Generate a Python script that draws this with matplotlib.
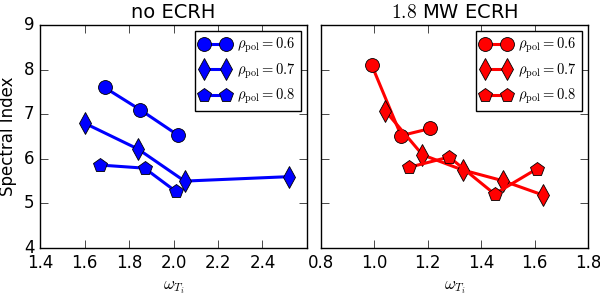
import matplotlib
matplotlib.use("Agg")
import matplotlib.pyplot as plt

plt.style.use("classic")
plt.rcParams["mathtext.fontset"] = "cm"
plt.rcParams["font.family"] = ["DejaVu Sans"]

labels = [r"$\rho_{\rm pol}=0.6$", r"$\rho_{\rm pol}=0.7$", r"$\rho_{\rm pol}=0.8$"]
markers = ["o", "d", "p"]

# no ECRH
noecrh_x06 = [1.69, 1.85, 2.02]
noecrh_y06 = [7.60, 7.10, 6.53]
noecrh_x07 = [1.60, 1.84, 2.05, 2.52]
noecrh_y07 = [6.80, 6.22, 5.50, 5.60]
noecrh_x08 = [1.67, 1.87, 2.01]
noecrh_y08 = [5.86, 5.79, 5.27]

# 1.8 MW ECRH
ecrh_x06 = [0.99, 1.10, 1.21]
ecrh_y06 = [8.10, 6.52, 6.68]
ecrh_x07 = [1.04, 1.18, 1.33, 1.48, 1.63]
ecrh_y07 = [7.08, 6.09, 5.75, 5.51, 5.19]
ecrh_x08 = [1.13, 1.28, 1.45, 1.61]
ecrh_y08 = [5.81, 6.04, 5.21, 5.78]

fig = plt.figure(figsize=(6, 3), dpi=100, facecolor="white")
ax1 = fig.add_axes([40/600, 52/300, 267/600, 223/300])
ax2 = fig.add_axes([321/600, 52/300, 267/600, 223/300])

def draw(ax, xs, ys, color):
    for x, y, m, lab in zip(xs, ys, markers, labels):
        ms = 10 if m == "o" else (11 if m == "d" else 10)
        ax.plot(x, y, color=color, marker=m, markersize=ms, linewidth=2.2,
                markeredgecolor="black", markeredgewidth=0.6, label=lab)
    leg = ax.legend(loc="upper right", numpoints=2, fontsize=10.5, fancybox=False,
                    handlelength=2.1, borderaxespad=0.4, labelspacing=0.42,
                    handletextpad=0.45, borderpad=0.35)
    leg.get_frame().set_edgecolor("black")
    leg.get_frame().set_linewidth(1.0)
    ax.set_ylim(4, 9)
    ax.set_yticks([4, 5, 6, 7, 8, 9])
    ax.tick_params(labelsize=12, direction="in", length=6)
    ax.set_xlabel(r"$\omega_{T_i}$", fontsize=12)

draw(ax1, [noecrh_x06, noecrh_x07, noecrh_x08],
     [noecrh_y06, noecrh_y07, noecrh_y08], "blue")
ax1.set_xlim(1.4, 2.6)
ax1.set_xticks([1.4, 1.6, 1.8, 2.0, 2.2, 2.4])
ax1.set_ylabel("Spectral Index", fontsize=12)
ax1.set_title("no ECRH", fontsize=14)

draw(ax2, [ecrh_x06, ecrh_x07, ecrh_x08],
     [ecrh_y06, ecrh_y07, ecrh_y08], "red")
ax2.set_xlim(0.8, 1.8)
ax2.set_xticks([0.8, 1.0, 1.2, 1.4, 1.6, 1.8])
ax2.set_yticklabels([])
ax2.set_title(r"$1.8$ MW ECRH", fontsize=14)

fig.savefig("out.png", dpi=100, facecolor="white")
